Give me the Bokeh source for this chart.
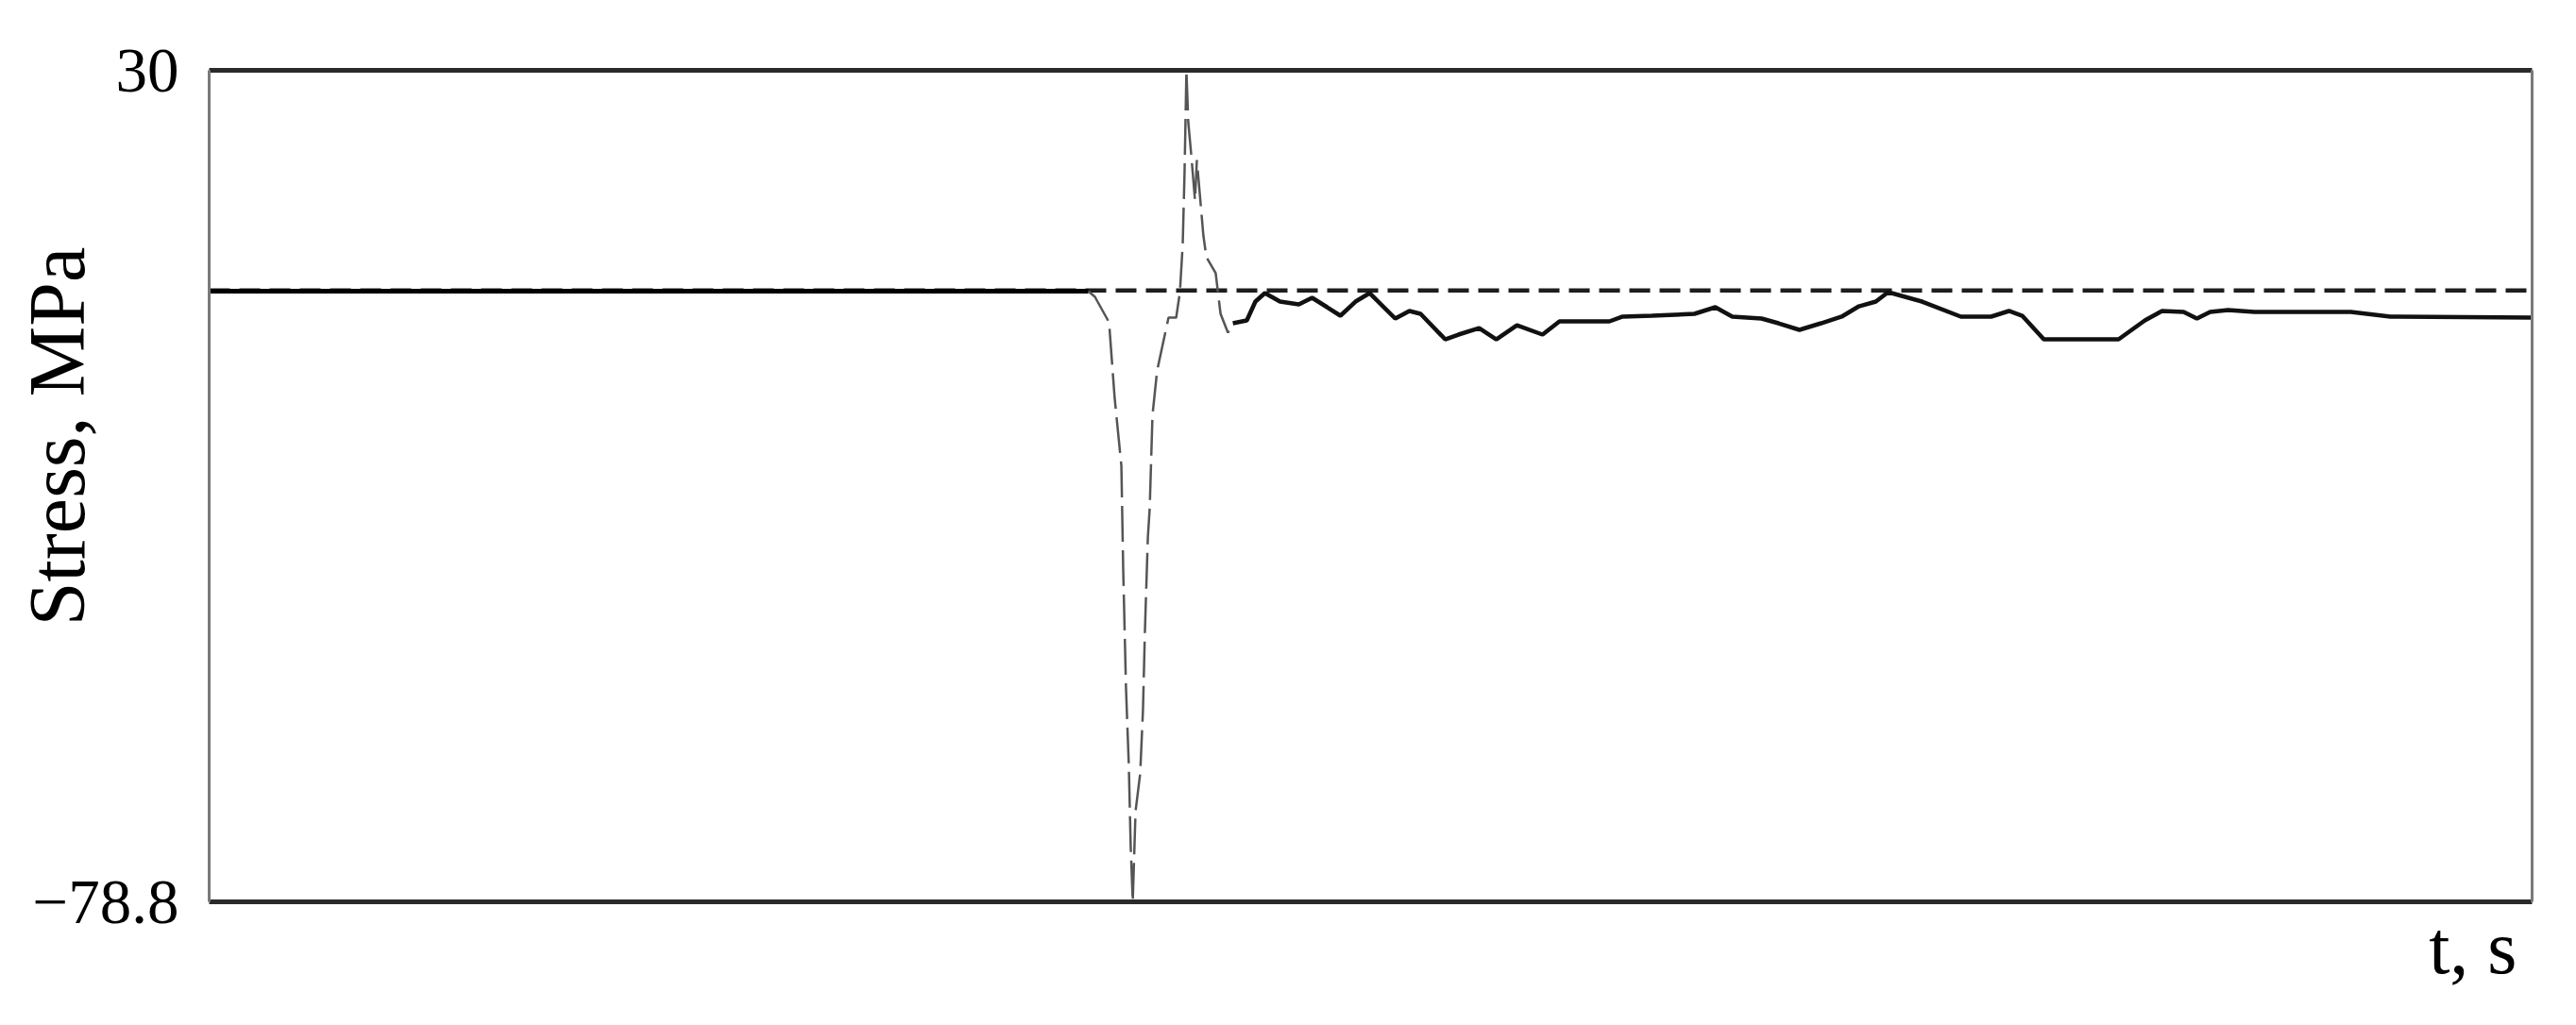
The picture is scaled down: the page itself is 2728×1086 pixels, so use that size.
from bokeh.plotting import figure
from bokeh.models import Range1d, LinearAxis, FixedTicker, Title
from bokeh.embed import file_html
from bokeh.resources import INLINE

# ---- data ----
t_sig = [0.000, 1.915, 3.785, 3.813, 3.874, 3.898, 3.927, 3.935, 3.947, 3.959,
         3.967, 3.976, 3.988, 4.008, 4.020, 4.028, 4.041, 4.049, 4.061, 4.081,
         4.130, 4.163, 4.179, 4.191, 4.199, 4.203, 4.207, 4.215, 4.228, 4.244,
         4.252, 4.280, 4.293, 4.333, 4.354, 4.386, 4.407, 4.467, 4.504, 4.545,
         4.610, 4.691, 4.748, 4.813, 4.870, 4.935, 4.996, 5.106, 5.167, 5.215,
         5.321, 5.378, 5.467, 5.541, 5.630, 5.740, 5.813, 6.028, 6.085, 6.211,
         6.394, 6.484, 6.557, 6.683, 6.756, 6.846, 6.939, 7.028, 7.102, 7.175,
         7.228, 7.374, 7.541, 7.671, 7.748, 7.805, 7.898, 8.220, 8.333, 8.407,
         8.500, 8.557, 8.614, 8.691, 8.805, 9.220, 9.390, 10.000]
stress_sig = [1.10, 1.10, 1.10, 0.36, -2.97, -12.85, -21.75, -35.46, -50.89, -60.90,
              -71.39, -78.80, -66.95, -62.01, -53.73, -43.73, -31.13, -27.30, -15.08, -9.27,
              -2.36, -2.36, 0.98, 7.15, 16.66, 23.21, 30.00, 23.21, 18.89, 12.96,
              18.27, 8.39, 5.55, 3.45, -1.86, -4.33, -3.10, -2.73, -0.26, 0.85,
              -0.26, -0.63, 0.24, -1.00, -2.11, -0.26, 0.85, -2.48, -1.49, -1.86,
              -5.20, -4.58, -3.72, -5.20, -3.35, -4.58, -2.85, -2.85, -2.23, -2.11,
              -1.86, -1.00, -2.23, -2.48, -3.10, -3.96, -3.10, -2.23, -0.88, -0.26,
              0.98, -0.26, -2.23, -2.23, -1.49, -2.11, -5.20, -5.20, -2.73, -1.49,
              -1.62, -2.48, -1.62, -1.37, -1.62, -1.62, -2.23, -2.36]
ref_t = [0.0, 10.0]
ref_stress = [1.2, 1.2]
y_ticks = [30, -78.8]
y_tick_labels = {30: "30", -78.8: "\u221278.8"}
x_label = "t, s"
y_label = "Stress, MPa"

spike_start, spike_end = 2, 36   # index range of the fast transient

FONT = "Liberation Serif"

p = figure(width=2712, height=1070, output_backend="svg", toolbar_location=None,
           x_range=Range1d(0, 10), y_range=Range1d(-78.8, 30),
           min_border_left=221, min_border_right=31, min_border_top=74,
           min_border_bottom=115, x_axis_type=None, y_axis_type=None)
p.outline_line_color = None
p.grid.visible = False
p.background_fill_color = "white"
p.border_fill_color = "white"

# axes used as frame borders
left = LinearAxis(ticker=FixedTicker(ticks=y_ticks))
left.major_label_overrides = y_tick_labels
left.major_tick_line_color = None
left.minor_tick_line_color = None
left.major_tick_out = 0
left.major_tick_in = 0
left.major_label_standoff = 32
left.major_label_text_font = FONT
left.major_label_text_font_size = "67px"
left.major_label_text_color = "black"
left.axis_line_color = "#7a7a7a"
left.axis_line_width = 3
# non-breaking spaces nudge the centred title upwards, as in the reference
left.axis_label = "\u00a0" * 5 + y_label
left.axis_label_text_font = FONT
left.axis_label_text_font_size = "84px"
left.axis_label_text_font_style = "normal"
left.axis_label_text_color = "black"
left.axis_label_standoff = -76
p.add_layout(left, "left")

right = LinearAxis(ticker=FixedTicker(ticks=[]))
right.major_tick_line_color = None
right.minor_tick_line_color = None
right.major_label_text_font_size = "0px"
right.axis_line_color = "#7a7a7a"
right.axis_line_width = 3
p.add_layout(right, "right")

for loc in ("below", "above"):
    ax = LinearAxis(ticker=FixedTicker(ticks=[]))
    ax.major_tick_line_color = None
    ax.minor_tick_line_color = None
    ax.major_label_text_font_size = "0px"
    ax.axis_line_color = "#2a2a2a"
    ax.axis_line_width = 5
    p.add_layout(ax, loc)

p.add_layout(Title(text=x_label, align="right", offset=16, standoff=5,
                   text_font=FONT, text_font_size="80px",
                   text_font_style="normal", text_color="black"), "below")

# reference (dashed) line
p.line(ref_t, ref_stress, line_color="#1e1e1e", line_width=4.5, line_dash="22 10")

# measured signal
p.line(t_sig[:spike_start + 1], stress_sig[:spike_start + 1],
       line_color="black", line_width=5)
p.line(t_sig[spike_start:spike_end + 1], stress_sig[spike_start:spike_end + 1],
       line_color="#555555", line_width=2.5, line_dash="38 9")
p.line(t_sig[spike_end:], stress_sig[spike_end:],
       line_color="#111111", line_width=4.5)

open("out.html", "w").write(file_html(p, INLINE))
